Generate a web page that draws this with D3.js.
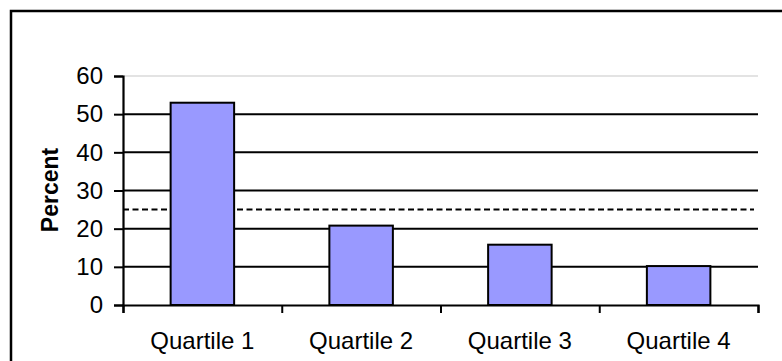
<!DOCTYPE html>
<html>
<head>
<meta charset="utf-8">
<script src="https://cdn.jsdelivr.net/npm/d3@7"></script>
<style>
  html, body { margin: 0; padding: 0; background: #fff; }
  svg { display: block; }
  text { font-family: "Liberation Sans", Arial, sans-serif; fill: #000; }
</style>
</head>
<body>
<svg id="chart" width="782" height="361"></svg>
<script>
const categories = ["Quartile 1", "Quartile 2", "Quartile 3", "Quartile 4"];
const percentValues = [53, 20.8, 15.8, 10.2];
const referenceLine = [25];
const yTicks = [0, 10, 20, 30, 40, 50, 60];
const yLabel = ["Percent"];

(function () {
const svg = d3.select("#chart");
const pLeft = 123, pRight = 758, pTop = 76, pBottom = 305;

// outer frame (extends beyond the canvas to the right and bottom)
svg.append("rect")
  .attr("x", 11).attr("y", 11)
  .attr("width", 900).attr("height", 500)
  .attr("fill", "none").attr("stroke", "#000").attr("stroke-width", 2.5);

const y = d3.scaleLinear().domain([0, 60]).range([pBottom, pTop]);
const x = d3.scaleBand().domain(categories).range([pLeft, pRight])
  .paddingInner(0.6).paddingOuter(0.3);
const xb = d3.scaleLinear().domain([0, categories.length]).range([pLeft, pRight]);

// gridlines
svg.append("g").selectAll("line")
  .data(yTicks.filter(d => d > 0))
  .join("line")
  .attr("x1", pLeft).attr("x2", pRight)
  .attr("y1", d => y(d)).attr("y2", d => y(d))
  .attr("stroke", d => d === 60 ? "#c8c8c8" : "#000")
  .attr("stroke-width", d => d === 60 ? 1.2 : 2);

// reference dashed line
svg.append("g").selectAll("line")
  .data(referenceLine)
  .join("line")
  .attr("x1", pLeft).attr("x2", pRight - 4)
  .attr("y1", d => y(d)).attr("y2", d => y(d))
  .attr("stroke", "#000").attr("stroke-width", 2)
  .attr("stroke-dasharray", "6,3.5");

// bars
svg.append("g").selectAll("rect")
  .data(categories.map((c, i) => ({c, v: percentValues[i]})))
  .join("rect")
  .attr("x", d => x(d.c))
  .attr("width", x.bandwidth())
  .attr("y", d => y(d.v))
  .attr("height", d => y(0) - y(d.v))
  .attr("fill", "#9999FF")
  .attr("stroke", "#000").attr("stroke-width", 2);

// y axis
const yAxis = svg.append("g").attr("transform", `translate(${pLeft},0)`)
  .call(d3.axisLeft(y).tickValues(yTicks).tickSize(9).tickPadding(11).tickFormat(d3.format("d")));
yAxis.select(".domain").attr("stroke", "#000").attr("stroke-width", 2.2);
yAxis.selectAll(".tick line").attr("stroke", "#000").attr("stroke-width", 2);
yAxis.selectAll(".tick text").attr("font-size", 24).attr("font-family", "Liberation Sans, Arial, sans-serif");

// x axis (ticks at category boundaries)
const xAxis = svg.append("g").attr("transform", `translate(0,${pBottom})`)
  .call(d3.axisBottom(xb).tickValues(d3.range(0, categories.length + 1)).tickSize(8).tickFormat(""));
xAxis.select(".domain").attr("stroke", "#000").attr("stroke-width", 2.2);
xAxis.selectAll(".tick line").attr("stroke", "#000").attr("stroke-width", 2);

// category labels
svg.append("g").selectAll("text")
  .data(categories)
  .join("text")
  .attr("x", d => x(d) + x.bandwidth() / 2)
  .attr("y", 349)
  .attr("text-anchor", "middle")
  .attr("font-size", 24)
  .text(d => d);

// y label
svg.append("text")
  .attr("transform", `translate(58,190) rotate(-90)`)
  .attr("text-anchor", "middle")
  .attr("font-size", 23)
  .attr("font-weight", "bold")
  .text(yLabel[0]);
})();
</script>
</body>
</html>
